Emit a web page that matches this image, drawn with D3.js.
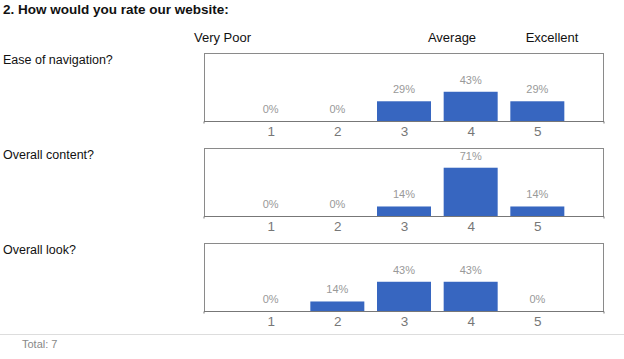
<!DOCTYPE html>
<html>
<head>
<meta charset="utf-8">
<script src="https://cdn.jsdelivr.net/npm/d3@7"></script>
<style>
  body { margin: 0; background: #fff; }
  text { font-family: Arial, "Liberation Sans", sans-serif; }
</style>
</head>
<body>
<div id="chart"></div>
<script>
// data
var questions = ["Ease of navigation?", "Overall content?", "Overall look?"];
var ratings = [1, 2, 3, 4, 5];
var navValues = [0, 0, 29, 43, 29];
var contentValues = [0, 0, 14, 71, 14];
var lookValues = [0, 14, 43, 43, 0];
var headerLabels = ["Very Poor", "Average", "Excellent"];
var totalText = "Total: 7";

var width = 624, height = 359;

var svg = d3.select("#chart")
    .append("svg")
    .attr("width", width)
    .attr("height", height);

// title
svg.append("text")
    .attr("x", 3)
    .attr("y", 14)
    .attr("font-size", "13.5px")
    .attr("font-weight", "bold")
    .attr("fill", "#111")
    .text("2. How would you rate our website:");

// column headers
var headerPos = [{x: 194, anchor: "start"}, {x: 452, anchor: "middle"}, {x: 552, anchor: "middle"}];
svg.selectAll(".hdr")
    .data(headerLabels)
    .enter()
    .append("text")
    .attr("class", "hdr")
    .attr("x", function(d, i) { return headerPos[i].x; })
    .attr("y", 42)
    .attr("font-size", "13px")
    .attr("fill", "#111")
    .style("text-anchor", function(d, i) { return headerPos[i].anchor; })
    .text(function(d) { return d; });

// panel geometry
var boxLeft = 204, boxRight = 604, boxHeight = 68;
var panelTops = [53, 148, 243];
var series = [navValues, contentValues, lookValues];

var x = d3.scaleLinear()
    .domain([0, 6])
    .range([boxLeft, boxRight]);

var y = d3.scaleLinear()
    .domain([0, 100])
    .range([boxHeight, 0]);

var barWidth = 54;

series.forEach(function(values, p) {
  var g = svg.append("g")
      .attr("transform", "translate(0," + panelTops[p] + ")");

  // question label
  svg.append("text")
      .attr("x", 3)
      .attr("y", panelTops[p] + 11)
      .attr("font-size", "12.5px")
      .attr("fill", "#111")
      .text(questions[p]);

  // box frame
  g.append("rect")
      .attr("x", boxLeft + 0.5)
      .attr("y", 0.5)
      .attr("width", boxRight - boxLeft - 1)
      .attr("height", boxHeight)
      .attr("fill", "none")
      .attr("stroke", "#8a8a8a")
      .attr("stroke-width", 1);

  // bars
  g.selectAll(".bar")
      .data(values)
      .enter()
      .append("rect")
      .attr("class", "bar")
      .attr("x", function(d, i) { return x(ratings[i]) - barWidth / 2; })
      .attr("y", function(d) { return y(d); })
      .attr("width", barWidth)
      .attr("height", function(d) { return boxHeight - y(d); })
      .attr("fill", "#3766c0");

  // bottom axis
  var axis = g.append("g")
      .attr("transform", "translate(0," + (boxHeight + 0.5) + ")")
      .call(d3.axisBottom(x).tickValues(ratings).tickSize(0).tickPadding(5).tickFormat(d3.format("d")));
  axis.select(".domain").attr("stroke", "#777").attr("d", "M" + boxLeft + ",2V0H" + boxRight + "V2");
  axis.selectAll("text")
      .attr("font-size", "13.5px")
      .attr("font-family", "Arial, 'Liberation Sans', sans-serif")
      .attr("fill", "#777");

  // percent labels
  g.selectAll(".pct")
      .data(values)
      .enter()
      .append("text")
      .attr("class", "pct")
      .attr("x", function(d, i) { return x(ratings[i]); })
      .attr("y", function(d) { return y(d) - 8; })
      .attr("font-size", "11px")
      .attr("fill", "#999")
      .style("text-anchor", "middle")
      .text(function(d) { return d + "%"; });
});

// separator and total
svg.append("line")
    .attr("x1", 0)
    .attr("x2", width)
    .attr("y1", 334.5)
    .attr("y2", 334.5)
    .attr("stroke", "#ddd");

svg.append("text")
    .attr("x", 22)
    .attr("y", 348)
    .attr("font-size", "11px")
    .attr("fill", "#888")
    .text(totalText);
</script>
</body>
</html>
